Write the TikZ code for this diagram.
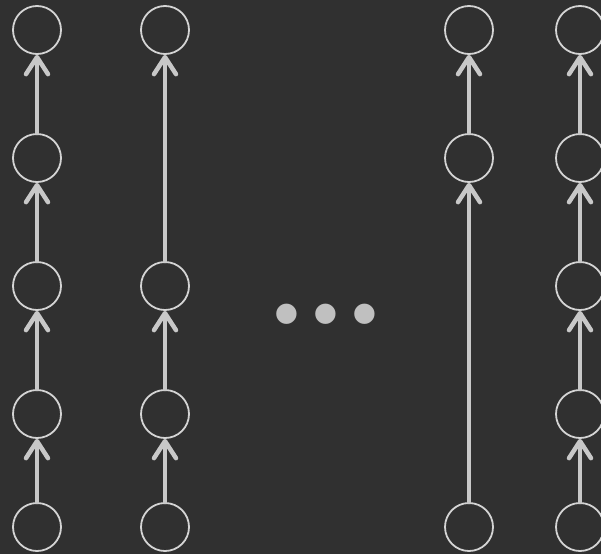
\documentclass[tikz,border=0pt]{standalone}
\usepackage{fontspec}
\newfontfamily\dotfont{Fira Sans}
\usepackage{tikz}
\usetikzlibrary{arrows.meta,positioning}

\definecolor{bgdark}{RGB}{48,48,48}
\definecolor{ringgray}{RGB}{212,212,212}
\definecolor{linkgray}{RGB}{200,200,200}
\definecolor{dotgray}{RGB}{192,192,192}

\begin{document}
\begin{tikzpicture}[x=1pt,y=-1pt,
    state/.style={circle, draw=ringgray, line width=1.8pt, minimum size=48pt, inner sep=0pt},
    link/.style={draw=linkgray, line width=4.5pt, line cap=round,
        -{Straight Barb[length=17pt,width=22pt,line cap=round,line join=round]}}]
    % background and frame
    \fill[bgdark] (0,0) rectangle (601,554);
    \clip (0,0) rectangle (601,554);

    % first column: every level
    \node[state] (a0) at (37,527) {};
    \node[state] (a1) at (37,414) {};
    \node[state] (a2) at (37,286) {};
    \node[state] (a3) at (37,158) {};
    \node[state] (a4) at (37,30) {};
    \draw[link] (a0) -- (a1);
    \draw[link] (a1) -- (a2);
    \draw[link] (a2) -- (a3);
    \draw[link] (a3) -- (a4);

    % second column: skips one level
    \node[state] (b0) at (165,527) {};
    \node[state] (b1) at (165,414) {};
    \node[state] (b2) at (165,286) {};
    \node[state] (b4) at (165,30) {};
    \draw[link] (b0) -- (b1);
    \draw[link] (b1) -- (b2);
    \draw[link] (b2) -- (b4);

    % ellipsis
    \node[text=dotgray, font=\dotfont\bfseries\fontsize{112}{112}\selectfont,
        inner sep=0pt, anchor=base] (gap) at (326,322) {.\kern12pt.\kern12pt.};

    % third column: long jump
    \node[state] (c0) at (469,527) {};
    \node[state] (c3) at (469,158) {};
    \node[state] (c4) at (469,30) {};
    \draw[link] (c0) -- (c3);
    \draw[link] (c3) -- (c4);

    % last column, cut by the border
    \node[state] (d0) at (580,527) {};
    \node[state] (d1) at (580,414) {};
    \node[state] (d2) at (580,286) {};
    \node[state] (d3) at (580,158) {};
    \node[state] (d4) at (580,30) {};
    \draw[link] (d0) -- (d1);
    \draw[link] (d1) -- (d2);
    \draw[link] (d2) -- (d3);
    \draw[link] (d3) -- (d4);
\end{tikzpicture}
\end{document}
